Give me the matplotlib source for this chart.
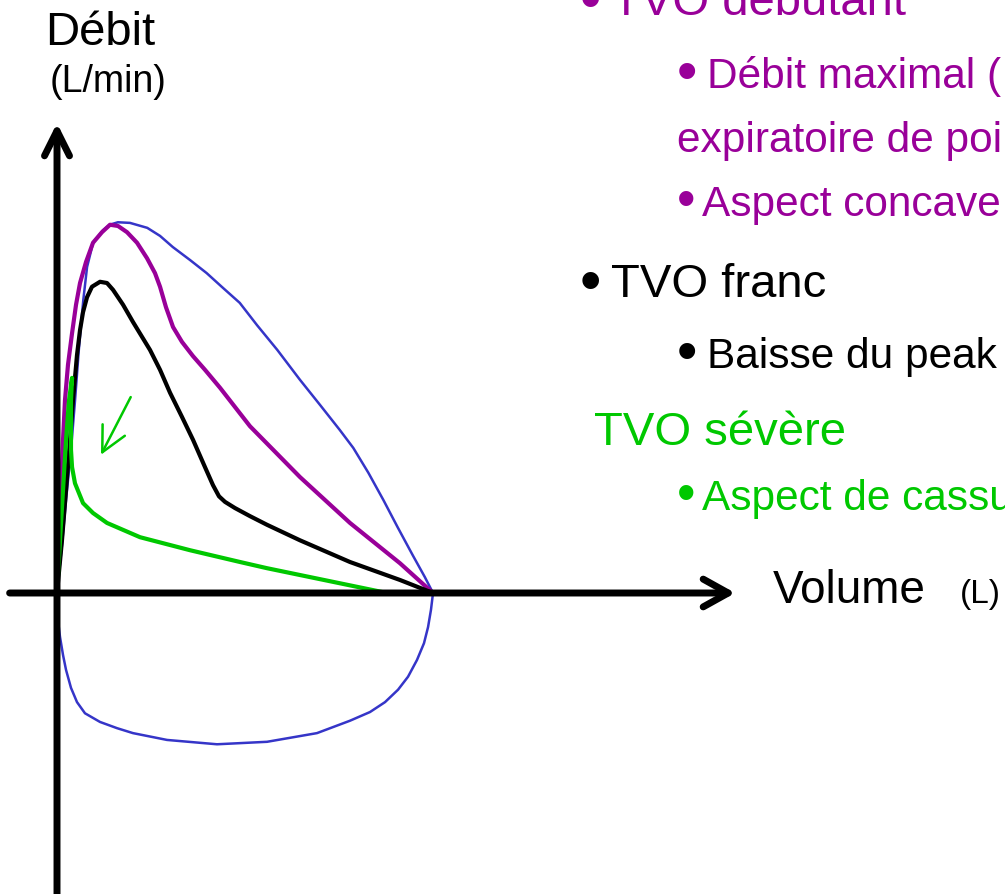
import numpy as np
import matplotlib.pyplot as plt

plt.rcParams['font.family'] = ['Liberation Sans', 'DejaVu Sans']

#------------------------------------------------------------------------------
#--- (0) Data : volume (L) and flow (L/min) read off the loops
#------------------------------------------------------------------------------
# normal loop, expiratory part (blue)
normal_exp_vol  = [0, 0.066, 0.12, 0.186, 0.24, 0.29, 0.35, 0.40, 0.48, 0.61, 0.70, 0.81, 0.97,
                   1.20, 1.37, 1.54, 1.77, 1.99, 2.19, 2.43, 2.66, 2.93, 3.23, 3.50, 3.76,
                   3.94, 4.14, 4.34, 4.53, 4.73, 4.89, 5.0]
normal_exp_flow = [0, 77, 150, 231, 311, 392, 473, 526, 565, 585, 594, 598, 597,
                   589, 576, 558, 537, 516, 494, 468, 432, 392, 344, 303, 263,
                   234, 194, 150, 106, 61, 26, 0]

# normal loop, inspiratory part (blue)
normal_insp_vol  = [0, 0.007, 0.013, 0.04, 0.08, 0.12, 0.186, 0.266, 0.372, 0.572, 0.798, 1.01,
                    1.463, 2.128, 2.793, 3.457, 3.896, 4.162, 4.362, 4.535, 4.668, 4.787,
                    4.880, 4.934, 4.973, 5.0]
normal_insp_flow = [0, -19, -44, -71, -100, -124, -153, -176, -194, -208, -218, -226,
                    -237, -244, -240, -226, -206, -192, -176, -156, -135, -108,
                    -81, -55, -27, 0]

# TVO debutant (purple)
early_vol  = [0, 0.027, 0.053, 0.08, 0.106, 0.146, 0.20, 0.253, 0.306, 0.386, 0.479, 0.598,
              0.705, 0.811, 0.931, 1.064, 1.197, 1.303, 1.37, 1.449, 1.543, 1.662, 1.809,
              1.968, 2.168, 2.566, 3.231, 3.896, 4.561, 5.0]
early_flow = [0, 85, 166, 247, 311, 368, 419, 465, 500, 534, 565, 582,
              594, 592, 582, 565, 540, 516, 494, 461, 429, 405, 382,
              360, 331, 269, 187, 113, 48, 0]

# TVO franc (black)
frank_vol  = [0, 0.066, 0.12, 0.173, 0.213, 0.266, 0.306, 0.346, 0.399, 0.465, 0.572, 0.665,
              0.745, 0.878, 1.011, 1.237, 1.37, 1.503, 1.662, 1.809, 1.968, 2.074, 2.154,
              2.234, 2.367, 2.566, 2.793, 3.231, 3.896, 4.561, 5.0]
frank_flow = [0, 85, 166, 247, 311, 384, 424, 453, 477, 494, 502, 500,
              489, 465, 437, 392, 360, 323, 284, 247, 203, 174, 156,
              147, 137, 124, 110, 85, 50, 21, 0]

# TVO severe (green)
severe_vol  = [0, 0.04, 0.08, 0.12, 0.16, 0.20, 0.186, 0.186, 0.186, 0.20, 0.239, 0.346,
               0.479, 0.665, 1.104, 1.769, 2.434, 2.793, 3.231, 3.670, 4.388]
severe_flow = [0, 85, 166, 247, 311, 347, 311, 263, 231, 203, 177, 145,
               129, 113, 90, 69, 50, 40, 29, 18, 0]

# ── colours ──
BLUE = "#3535C8"
PURPLE = "#990099"
GREEN = "#00C800"


def px(x, y):
    # pixel position -> figure fraction (for the slide text)
    return x / 1005, 1 - y / 894


#------------------------------------------------------------------------------
#--- (1) Figure
#------------------------------------------------------------------------------
fig = plt.figure(figsize=(10.05, 8.94), dpi=100)
ax = fig.add_axes([0, 0, 1, 1])
ax.set_xlim(-0.758, 12.606)
ax.set_ylim(-485.5, 956.5)
ax.axis('off')

# axes arrows
ax.annotate('', xy=(9.02, 0), xytext=(-0.63, 0),
            arrowprops=dict(arrowstyle='->,head_length=0.9,head_width=0.5', lw=5,
                            color='black', mutation_scale=20, shrinkA=0, shrinkB=0))
ax.annotate('', xy=(0, 758), xytext=(0, -490),
            arrowprops=dict(arrowstyle='->,head_length=0.9,head_width=0.45', lw=5,
                            color='black', mutation_scale=20, shrinkA=0, shrinkB=0))

# curves
kw = dict(solid_joinstyle='round', solid_capstyle='butt')
ax.plot(normal_exp_vol, normal_exp_flow, color=BLUE, lw=1.8, **kw)
ax.plot(normal_insp_vol, normal_insp_flow, color=BLUE, lw=1.8, **kw)
ax.plot(early_vol, early_flow, color=PURPLE, lw=3, **kw)
ax.plot(frank_vol, frank_flow, color='black', lw=3, **kw)
ax.plot(severe_vol, severe_flow, color=GREEN, lw=3, **kw)

# small green arrow showing the collapse
ax.annotate('', xy=(0.585, 223), xytext=(0.98, 316),
            arrowprops=dict(arrowstyle='->,head_length=0.9,head_width=0.45', lw=1.8,
                            color=GREEN, mutation_scale=20, shrinkA=0, shrinkB=0))

#------------------------------------------------------------------------------
#--- (2) Text
#------------------------------------------------------------------------------
fig.text(*px(45, 45), "Débit", fontsize=34, va='baseline')
fig.text(*px(50, 92), "(L/min)", fontsize=27, va='baseline')
fig.text(*px(773, 603), "Volume", fontsize=33, va='baseline')
fig.text(*px(960, 603), "(L)", fontsize=24, va='baseline')

main_sz = 34
sub_sz = 30.5
bul_main = 44
bul_sub = 42


def bullet(x, y, colour, size):
    fig.text(*px(x, y), "•", fontsize=size, va='baseline', color=colour)


bullet(579.5, 19, PURPLE, bul_main)
fig.text(*px(612, 15), "TVO débutant", fontsize=main_sz, va='baseline', color=PURPLE)
bullet(676.5, 90, PURPLE, bul_sub)
fig.text(*px(707, 88), "Débit maximal (", fontsize=sub_sz, va='baseline', color=PURPLE)
fig.text(*px(677, 152), "expiratoire de poi", fontsize=sub_sz, va='baseline', color=PURPLE)
bullet(677, 217, PURPLE, bul_sub - 4)
fig.text(*px(702, 216), "Aspect concave", fontsize=sub_sz, va='baseline', color=PURPLE)

bullet(579.5, 301, 'black', bul_main)
fig.text(*px(611, 297), "TVO franc", fontsize=main_sz, va='baseline', color='black')
bullet(676.5, 370, 'black', bul_sub)
fig.text(*px(707, 368), "Baisse du peak", fontsize=sub_sz, va='baseline', color='black')

fig.text(*px(594, 445), "TVO sévère", fontsize=main_sz, va='baseline', color=GREEN)
bullet(677, 511, GREEN, bul_sub - 4)
fig.text(*px(702, 510), "Aspect de cassu", fontsize=sub_sz, va='baseline', color=GREEN)

fig.savefig("out.png", dpi=100)
